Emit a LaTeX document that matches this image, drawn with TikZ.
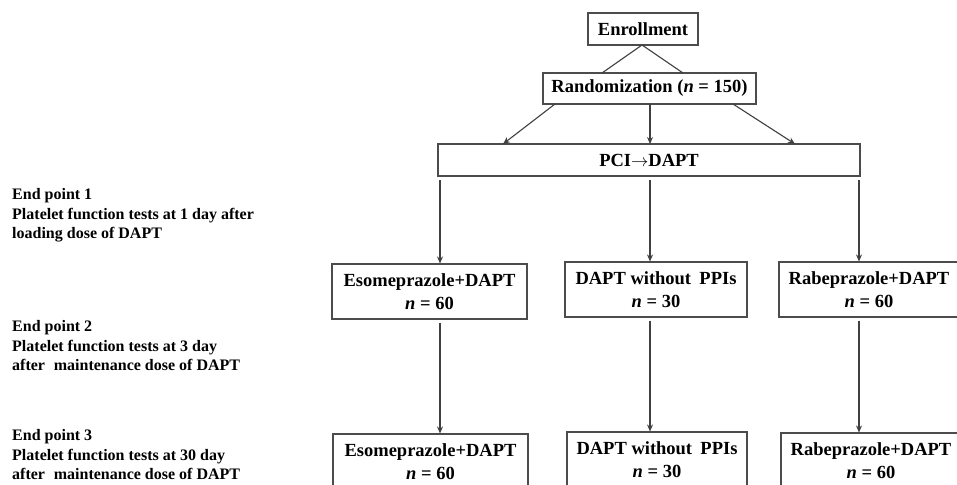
\documentclass[tikz,border=0pt]{standalone}
\usepackage{fontspec}
\setmainfont{Liberation Serif}
\usetikzlibrary{arrows.meta}
\tikzset{
  box/.style={draw=black!70, line width=1.1pt, inner sep=0pt, align=center,
    font=\fontsize{18.5}{22.5}\selectfont\bfseries},
  conn/.style={draw=black!75, line width=1.1pt},
  arr/.style={conn, -{Stealth[length=7pt,width=6pt]}},
  side/.style={anchor=north west, inner sep=0pt, align=left,
    font=\fontsize{16}{19.8}\selectfont\bfseries}
}
\begin{document}
\begin{tikzpicture}[x=1pt,y=-1pt]
\useasboundingbox (0,0) rectangle (957,484);
\clip (0,0) rectangle (957,484);
\fill[white] (0,0) rectangle (957,484);
% boxes
\node[box, minimum width=110pt, minimum height=32pt] (enroll) at (643,29) {Enrollment};
\node[box, minimum width=213pt, minimum height=31pt] (rand) at (649.5,88.5) {Randomization (\textit{n} = 150)};
\node[box, minimum width=422pt, minimum height=32pt] (pci) at (649,160) {PCI\(\rightarrow\)DAPT};
\node[box, minimum width=195pt, minimum height=55pt] (e1) at (429.5,291.5) {Esomeprazole+DAPT\\\textit{n} = 60};
\node[box, minimum width=182pt, minimum height=55pt] (d1) at (656,289.5) {DAPT without\hspace{0.2em} PPIs\\\textit{n} = 30};
\node[box, minimum width=180pt, minimum height=55pt] (r1) at (869,289.5) {Rabeprazole+DAPT\\\textit{n} = 60};
\node[box, minimum width=195pt, minimum height=55pt] (e2) at (430.5,461.5) {Esomeprazole+DAPT\\\textit{n} = 60};
\node[box, minimum width=180pt, minimum height=55pt] (d2) at (657,459.5) {DAPT without\hspace{0.2em} PPIs\\\textit{n} = 30};
\node[box, minimum width=180pt, minimum height=55pt] (r2) at (871,460.5) {Rabeprazole+DAPT\\\textit{n} = 60};
% side texts
\node[side] (ep1) at (12,188) {End point 1\\Platelet function tests at 1 day after\\loading dose of DAPT};
\node[side] (ep2) at (12,320) {End point 2\\Platelet function tests at 3 day\\after\hspace{0.3em} maintenance dose of DAPT};
\node[side] (ep3) at (12,429) {End point 3\\Platelet function tests at 30 day\\after\hspace{0.3em} maintenance dose of DAPT};
% enrollment -> randomization
\coordinate (es) at (642,45);
\coordinate (rl) at (602,73);
\coordinate (rr) at (683,73);
\draw[conn] (rl) -- (es) -- (rr);
% randomization -> PCI
\coordinate (ra) at (555,104);
\coordinate (rb) at (650,104);
\coordinate (rc) at (733,104);
\coordinate (pa) at (503,144);
\coordinate (pb) at (650,144);
\coordinate (pc) at (795,144);
\draw[arr] (ra) -- (pa);
\draw[arr] (rb) -- (pb);
\draw[arr] (rc) -- (pc);
% PCI -> groups
\coordinate (xa) at (440,180);
\coordinate (xb) at (650,180);
\coordinate (xc) at (859,180);
\draw[arr] (xa) -- (xa |- e1.north);
\draw[arr] (xb) -- (xb |- d1.north);
\draw[arr] (xc) -- (xc |- r1.north);
% groups -> groups
\draw[arr, shorten <=3pt] (xa |- e1.south) -- (xa |- e2.north);
\draw[arr, shorten <=3pt] (xb |- d1.south) -- (xb |- d2.north);
\draw[arr, shorten <=3pt] (xc |- r1.south) -- (xc |- r2.north);
\end{tikzpicture}
\end{document}
